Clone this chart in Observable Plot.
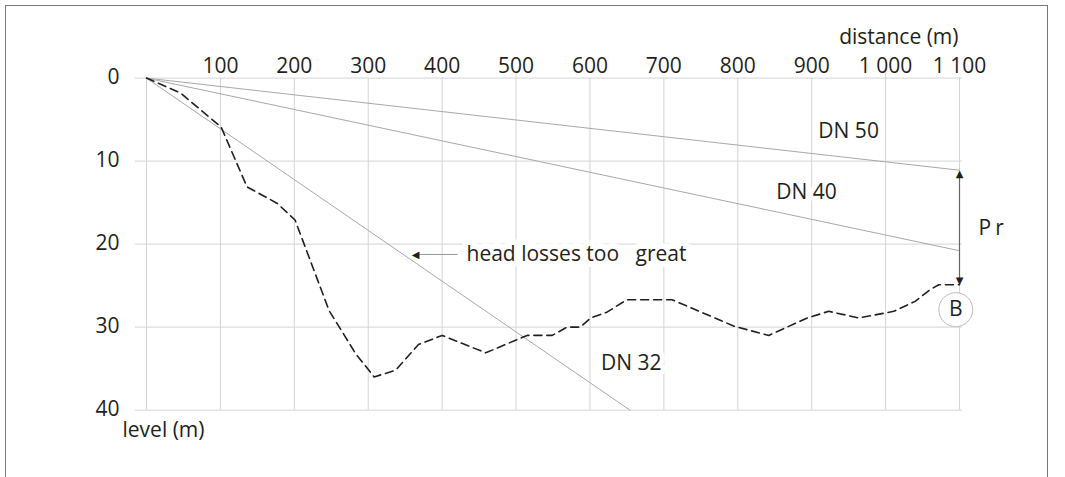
<!DOCTYPE html>
<html>
<head>
<meta charset="utf-8">
<script src="https://cdn.jsdelivr.net/npm/d3@7"></script>
<script src="https://cdn.jsdelivr.net/npm/@observablehq/plot@0.6"></script>
<style>
  html, body { margin: 0; padding: 0; background: #fff; }
  #wrap { position: relative; width: 1065px; height: 477px; overflow: hidden; }
  #frame { position: absolute; left: 5px; top: 5px; width: 1043px; height: 500px;
           border: 1.5px solid #777; border-bottom: none; box-sizing: border-box; pointer-events: none; }
  #chart svg text { white-space: pre; }
</style>
</head>
<body>
<div id="wrap"><div id="chart"></div><div id="frame"></div></div>
<script>
// ---- data ----
const gridX = [0, 100, 200, 300, 400, 500, 600, 700, 800, 900, 1000, 1100];
const xTicks = [100, 200, 300, 400, 500, 600, 700, 800, 900, 1000, 1100];
const xTickLabels = ["100", "200", "300", "400", "500", "600", "700", "800", "900", "1 000", "1 100"];
const yTicks = [0, 10, 20, 30, 40];
const yTickLabels = ["0", "10", "20", "30", "40"];

// ground profile (distance m, level m)
const profileDist  = [0, 46, 101, 136, 177, 201, 247, 283, 308, 337, 368, 400, 459, 515, 549, 569, 587, 601, 623, 650, 711, 777, 795, 842, 894, 923, 964, 1011, 1040, 1060, 1072, 1100];
const profileLevel = [0, 1.8, 5.9, 13.1, 15.1, 17.1, 28, 33.2, 36, 35.2, 32.1, 31, 33.1, 31, 31, 30, 30, 28.9, 28.2, 26.7, 26.7, 29.2, 29.9, 31, 28.9, 28.1, 28.9, 28.1, 26.9, 25.5, 24.9, 24.9];

// head-loss lines (pipe diameter): end point of each line from origin
const pipeNames = ["DN 50", "DN 40", "DN 32"];
const pipeEndDist = [1100, 1100, 654];
const pipeEndLevel = [11.1, 20.8, 40];

// annotations
const pipeLabelDist = [950, 893, 656];
const pipeLabelLevel = [6.4, 13.8, 34.4];
const prTop = 11.1, prBottom = 24.8, prDist = 1100;
const pointB = {x: 1095, y: 27.9, label: "B"};
const noteText = "head losses too   great";
const noteDist = 433, noteLevel = 21.25, noteArrowFrom = 421, noteArrowTo = 368, noteArrowTip = 359;

// ---- build tables ----
const profile = profileDist.map((d, i) => ({x: d, y: profileLevel[i]}));
const pipes = pipeNames.flatMap((n, i) => [{name: n, x: 0, y: 0}, {name: n, x: pipeEndDist[i], y: pipeEndLevel[i]}]);
const pipeLabels = pipeNames.map((n, i) => ({text: n, x: pipeLabelDist[i], y: pipeLabelLevel[i]}));
const ink = "#231f20";
const font = "Open Sans";

const plot = Plot.plot({
  width: 1065,
  height: 477,
  marginLeft: 146,
  marginRight: 106,
  marginTop: 77.6,
  marginBottom: 67.4,
  style: {fontFamily: font, background: "transparent"},
  x: {domain: [0, 1100], axis: null},
  y: {domain: [0, 40], reverse: true, axis: null},
  marks: [
    // grid
    Plot.ruleX(gridX, {x: d => d, y1: d => (d === 500 || d === 1000 ? -0.6 : 0), y2: 40, stroke: "#d4d4d4", strokeWidth: 1}),
    Plot.ruleY(yTicks, {y: d => d, x1: -15, x2: 1104, stroke: "#d4d4d4", strokeWidth: 1}),
    // axis labels
    Plot.text(xTicks, {x: d => d, text: (d, i) => xTickLabels[i], frameAnchor: "top", dy: -20, fontSize: 21, fill: ink}),
    Plot.text(yTicks, {y: d => d, text: (d, i) => yTickLabels[i], frameAnchor: "left", dx: -27, dy: -1, textAnchor: "end", fontSize: 21, fill: ink}),
    Plot.text(["distance (m)"], {text: d => d, frameAnchor: "top-right", textAnchor: "end", dx: -1, dy: -49, fontSize: 21, fill: ink}),
    Plot.text(["level (m)"], {text: d => d, frameAnchor: "bottom-left", textAnchor: "start", dx: -24, dy: 27, fontSize: 21, fill: ink}),
    // labels with white halo (breaks grid lines)
    Plot.text(pipeLabels, {x: "x", y: "y", text: "text", fontSize: 21, fill: ink, stroke: "white", strokeWidth: 10, paintOrder: "stroke", strokeLinejoin: "round"}),
    Plot.text([noteText], {x: () => noteDist, y: () => noteLevel, text: d => d, textAnchor: "start", fontSize: 21, fill: ink, stroke: "white", strokeWidth: 12, paintOrder: "stroke", strokeLinejoin: "round"}),
    // head-loss lines
    Plot.line(pipes, {x: "x", y: "y", z: "name", stroke: "#a8a8a8", strokeWidth: 1}),
    // ground profile
    Plot.line(profile, {x: "x", y: "y", stroke: ink, strokeWidth: 1.6, strokeDasharray: "8,5"}),
    // note arrow
    Plot.link([0], {x1: () => noteArrowFrom, x2: () => noteArrowTo, y1: () => noteLevel, y2: () => noteLevel, stroke: "#999", strokeWidth: 1}),
    Plot.text(["\u25C0"], {x: () => noteArrowTip, y: () => noteLevel, text: d => d, textAnchor: "start", fontFamily: "DejaVu Sans", fontSize: 10, fill: ink}),
    // Pr arrow
    Plot.ruleX([prDist], {x: d => d, y1: prTop + 0.6, y2: prBottom - 0.6, stroke: "#666", strokeWidth: 1.2}),
    Plot.text(["\u25B2"], {x: () => prDist, y: () => prTop, text: d => d, lineAnchor: "top", fontFamily: "DejaVu Sans", fontSize: 10, fill: ink}),
    Plot.text(["\u25BC"], {x: () => prDist, y: () => prBottom, text: d => d, lineAnchor: "bottom", fontFamily: "DejaVu Sans", fontSize: 10, fill: ink}),
    Plot.text(["Pr"], {x: () => prDist, y: () => (prTop + prBottom) / 2 + 0.2, text: d => d, textAnchor: "start", dx: 19, fontSize: 21, fill: ink}),
    // point B
    Plot.dot([pointB], {x: "x", y: "y", r: 17, stroke: "#bdbdbd", strokeWidth: 1, fill: "white"}),
    Plot.text([pointB], {x: "x", y: "y", text: "label", fontSize: 21, fill: ink})
  ]
});
document.getElementById("chart").appendChild(plot);
d3.select(plot).selectAll("text").filter(function() { return this.textContent === "Pr"; }).style("letter-spacing", "4px");
</script>
</body>
</html>
